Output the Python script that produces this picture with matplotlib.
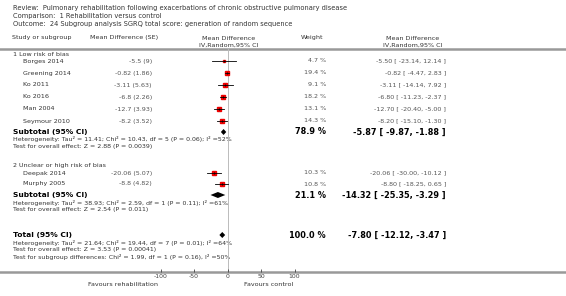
import numpy as np
import matplotlib.pyplot as plt

# study data
studies = ['Borges 2014', 'Greening 2014', 'Ko 2011', 'Ko 2016', 'Man 2004', 'Seymour 2010',
           'Deepak 2014', 'Murphy 2005']
group = [1, 1, 1, 1, 1, 1, 2, 2]
md = [-5.5, -0.82, -3.11, -6.8, -12.7, -8.2, -20.06, -8.8]
se_txt = ['-5.5 (9)', '-0.82 (1.86)', '-3.11 (5.63)', '-6.8 (2.26)', '-12.7 (3.93)',
          '-8.2 (3.52)', '-20.06 (5.07)', '-8.8 (4.82)']
lo = [-23.14, -4.47, -14.14, -11.23, -20.40, -15.10, -30.00, -18.25]
hi = [12.14, 2.83, 7.92, -2.37, -5.00, -1.30, -10.12, 0.65]
weight = [4.7, 19.4, 9.1, 18.2, 13.1, 14.3, 10.3, 10.8]

# pooled estimates: subgroup 1, subgroup 2, total
pool_md = [-5.87, -14.32, -7.80]
pool_lo = [-9.87, -25.35, -12.12]
pool_hi = [-1.88, -3.29, -3.47]
pool_w = [78.9, 21.1, 100.0]
pool_lab = ['Subtotal (95% CI)', 'Subtotal (95% CI)', 'Total (95% CI)']
pool_notes = [
    ['Heterogeneity: Tau\u00b2 = 11.41; Chi\u00b2 = 10.43, df = 5 (P = 0.06); I\u00b2 =52%',
     'Test for overall effect: Z = 2.88 (P = 0.0039)'],
    ['Heterogeneity: Tau\u00b2 = 38.93; Chi\u00b2 = 2.59, df = 1 (P = 0.11); I\u00b2 =61%',
     'Test for overall effect: Z = 2.54 (P = 0.011)'],
    ['Heterogeneity: Tau\u00b2 = 21.64; Chi\u00b2 = 19.44, df = 7 (P = 0.01); I\u00b2 =64%',
     'Test for overall effect: Z = 3.53 (P = 0.00041)',
     'Test for subgroup differences: Chi\u00b2 = 1.99, df = 1 (P = 0.16), I\u00b2 =50%'],
]
group_lab = ['1 Low risk of bias', '2 Unclear or high risk of bias']
xticks = [-100, -50, 0, 50, 100]

# layout (pixel rows)
W, H = 566, 296
study_rows = [61, 73, 85, 97, 109, 121, 173, 184]
group_rows = [55, 166]
pool_rows = [132, 195, 235]
axis_y = 272
header_y = 48.5

fig = plt.figure(figsize=(W / 100, H / 100), dpi=100)
bg = fig.add_axes([0, 0, 1, 1])
bg.set_xlim(0, W)
bg.set_ylim(H, 0)
bg.axis('off')

x0, x1 = 160.5, 294.5
ax = fig.add_axes([x0 / W, (H - axis_y) / H, (x1 - x0) / W, (axis_y - header_y) / H])
ax.set_xlim(-100, 100)
ax.set_ylim(axis_y, header_y)
ax.patch.set_alpha(0)
for s in ax.spines.values():
    s.set_visible(False)
ax.set_yticks([])
ax.set_xticks(xticks)
ax.set_xticklabels([str(t) for t in xticks], fontsize=4.4, color='#444')
ax.tick_params(axis='x', direction='in', length=2, width=0.6, color='#444', pad=1.5)

txt = '#333'
val = '#555'
fs = 4.6

# header
bg.text(13, 8, 'Review:  Pulmonary rehabilitation following exacerbations of chronic obstructive pulmonary disease',
        fontsize=4.8, color=txt, va='center')
bg.text(13, 16, 'Comparison:  1 Rehabilitation versus control', fontsize=4.8, color=txt, va='center')
bg.text(13, 24, 'Outcome:  24 Subgroup analysis SGRQ total score: generation of random sequence',
        fontsize=4.8, color=txt, va='center')
bg.text(12, 38, 'Study or subgroup', fontsize=fs, color=txt, va='center')
bg.text(90, 38, 'Mean Difference (SE)', fontsize=fs, color=txt, va='center')
bg.text(229, 38, 'Mean Difference', fontsize=fs, color=txt, va='center', ha='center')
bg.text(229, 45, 'IV,Random,95% CI', fontsize=fs, color=txt, va='center', ha='center')
bg.text(301, 38, 'Weight', fontsize=fs, color=txt, va='center')
bg.text(413, 38, 'Mean Difference', fontsize=fs, color=txt, va='center', ha='center')
bg.text(413, 45, 'IV,Random,95% CI', fontsize=fs, color=txt, va='center', ha='center')
bg.axhline(header_y, color='#999', lw=1.8)
bg.axhline(axis_y, color='#999', lw=1.8)

ax.axvline(0, color='#bbb', lw=0.7, zorder=1)

for i, name in enumerate(group_lab):
    bg.text(13, group_rows[i], name, fontsize=fs, color=txt, va='center')

for i, name in enumerate(studies):
    y = study_rows[i]
    bg.text(23, y, name, fontsize=fs, color=txt, va='center')
    bg.text(152, y, se_txt[i], fontsize=fs, color=val, va='center', ha='right')
    bg.text(326, y, '%.1f %%' % weight[i], fontsize=fs, color=val, va='center', ha='right')
    bg.text(446, y, '%.2f [ %.2f, %.2f ]' % (md[i], lo[i], hi[i]), fontsize=fs, color=val,
            va='center', ha='right')
    ax.plot(md[i], y, 's', color='#ee0000', mec='#ee0000', ms=np.sqrt(weight[i]) * 0.72, zorder=3)
    ax.plot([lo[i], hi[i]], [y, y], color='black', lw=0.6, zorder=4)
    ax.plot(md[i], y, '|', color='black', ms=1.5, mew=0.6, zorder=4)

for k in range(3):
    y = pool_rows[k]
    bg.text(13, y, pool_lab[k], fontsize=5.4, color='black', weight='bold', va='center')
    bg.text(326, y, '%.1f %%' % pool_w[k], fontsize=5.9, color='black', weight='bold',
            va='center', ha='right')
    bg.text(446, y, '%.2f [ %.2f, %.2f ]' % (pool_md[k], pool_lo[k], pool_hi[k]), fontsize=5.9,
            color='black', weight='bold', va='center', ha='right')
    ax.fill([pool_lo[k], pool_md[k], pool_hi[k], pool_md[k]], [y, y - 3, y, y + 3],
            color='black', lw=0, zorder=4)
    for j, note in enumerate(pool_notes[k]):
        bg.text(13, y + 7.5 + 7 * j, note, fontsize=4.5, color=txt, va='center')

bg.text(158, 284, 'Favours rehabilitation', fontsize=fs, color=txt, va='center', ha='right')
bg.text(244, 284, 'Favours control', fontsize=fs, color=txt, va='center', ha='left')

fig.savefig('out.png', dpi=100)
